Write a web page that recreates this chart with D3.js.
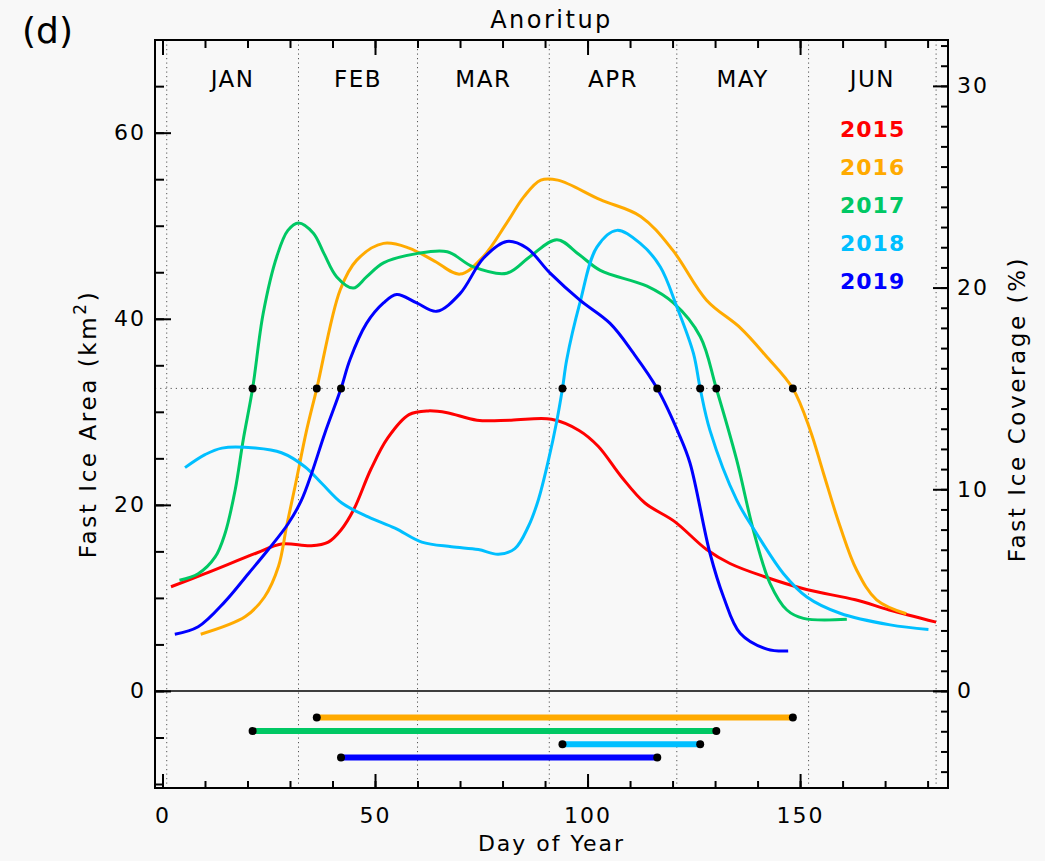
<!DOCTYPE html>
<html>
<head>
<meta charset="utf-8">
<script src="https://cdn.jsdelivr.net/npm/d3@7"></script>
<style>
  body { margin: 0; background: #f8f8f8; }
  svg { display: block; }
  text { font-family: "DejaVu Sans", sans-serif; }
</style>
</head>
<body>
<div id="vis"></div>
<script>
var WIDTH = 1045
var HEIGHT = 861

// ---- data ----
var years = ['2015', '2016', '2017', '2018', '2019']
var monthNames = ['JAN', 'FEB', 'MAR', 'APR', 'MAY', 'JUN']
var monthStartDays = [1, 32, 60, 91, 121, 152, 182]

var days2015 = [2, 10, 22, 28, 35, 39, 42, 45, 49, 53, 58, 62.5, 67, 74, 82, 91.5, 98, 102.5, 108, 113.5, 120.5, 128, 133.5, 141.5, 151.5, 163, 171, 182]
var area2015 = [11.2, 12.6, 14.8, 15.8, 15.6, 16.0, 17.3, 19.5, 23.8, 27.2, 29.7, 30.1, 29.9, 29.1, 29.1, 29.2, 28.0, 26.3, 23.0, 20.2, 18.2, 15.2, 13.7, 12.3, 10.9, 9.8, 8.7, 7.4]

var days2016 = [9, 19.5, 24, 27.3, 29.2, 31.2, 33.9, 36.3, 41.8, 45.7, 52, 58, 64, 70, 75.5, 81, 85, 89, 93, 103, 112.5, 120, 128, 136, 142, 148.3, 152.4, 155.5, 159.4, 163.3, 168, 175]
var area2016 = [6.1, 8.0, 10.1, 13.4, 17.7, 22.0, 28.0, 32.5, 43.1, 46.3, 48.1, 47.6, 46.2, 44.8, 46.7, 50.3, 53.1, 54.9, 54.9, 52.8, 51.0, 47.4, 42.0, 39.0, 36.0, 32.5, 28.0, 23.4, 17.7, 13.0, 9.8, 8.3]

var days2017 = [4, 8.4, 12.4, 14.7, 17.1, 19, 21.2, 23.7, 26.9, 29.5, 32, 35.5, 38, 41, 44.9, 48, 52, 59.8, 67, 73, 81, 86.5, 92.8, 98, 103, 114, 120.2, 126.5, 130.3, 135.1, 139, 142.9, 146.9, 150.8, 161]
var area2017 = [11.9, 12.6, 14.4, 16.9, 21.6, 27.0, 32.5, 40.6, 46.7, 49.5, 50.3, 49.2, 47.0, 44.5, 43.3, 44.5, 46.0, 47.0, 47.2, 45.6, 44.9, 46.7, 48.5, 46.9, 45.2, 43.5, 41.7, 38.1, 32.5, 24.8, 17.3, 11.6, 8.7, 7.8, 7.7]

var days2018 = [5.3, 10, 14, 21.8, 28, 33.5, 37.5, 42.2, 48.4, 54.7, 61, 68, 74.3, 79, 82.9, 86.1, 88.4, 90.8, 92.8, 94.1, 95.1, 98.2, 102.2, 106.9, 112.4, 117.1, 121, 124.9, 126.5, 128.8, 135.1, 139.8, 146.1, 151.6, 159.4, 171.2, 180.2]
var area2018 = [24.0, 25.4, 26.1, 26.1, 25.6, 24.1, 22.3, 20.2, 18.7, 17.5, 16.0, 15.5, 15.2, 14.7, 15.3, 17.7, 20.5, 24.8, 29.1, 32.5, 35.6, 41.7, 47.7, 49.5, 48.1, 45.6, 41.3, 36.3, 32.5, 28.0, 20.5, 16.9, 12.6, 10.1, 8.35, 7.1, 6.6]

var days2019 = [2.9, 8.4, 14.7, 20.2, 24.9, 29.6, 32.7, 35.1, 38.2, 42, 44.1, 48, 52, 55.1, 59.8, 64.5, 70, 75.5, 81, 85.7, 91.2, 98.2, 105.3, 110.8, 116.4, 121.6, 124.1, 128.8, 132, 135.9, 142.2, 147.2]
var area2019 = [6.1, 6.9, 9.6, 12.6, 15.2, 18.0, 20.5, 23.4, 27.7, 32.5, 35.6, 39.5, 41.7, 42.6, 41.7, 40.8, 42.7, 46.5, 48.3, 47.6, 44.9, 42.0, 39.5, 36.3, 32.5, 27.5, 24.5, 14.8, 10.1, 6.2, 4.5, 4.3]

// days where the 15% coverage threshold is crossed (null = never)
var freezeDays = [null, 36.3, 21.2, 94.1, 42.0]
var breakDays = [null, 148.3, 130.3, 126.5, 116.4]

var totalArea = 216.76      // km2 equal to 100% coverage
var thresholdPct = 15

var colors = ['#ff0000', '#ffaa00', '#00c864', '#00bfff', '#0000ff']

var series = [
    { days: days2015, area: area2015 },
    { days: days2016, area: area2016 },
    { days: days2017, area: area2017 },
    { days: days2018, area: area2018 },
    { days: days2019, area: area2019 }
]

// ---- layout ----
var plotL = 155, plotR = 948, plotT = 40, plotB = 788

var x = d3.scaleLinear().domain([-1.76, 184.8]).range([plotL, plotR])
var y = d3.scaleLinear().domain([-10.43, 69.96]).range([plotB, plotT])
var yR = d3.scaleLinear().domain([-10.43 / totalArea * 100, 69.96 / totalArea * 100]).range([plotB, plotT])

var svg = d3.select('#vis').append('svg')
    .attr('width', WIDTH)
    .attr('height', HEIGHT)

svg.append('rect').attr('width', WIDTH).attr('height', HEIGHT).attr('fill', '#f8f8f8')

// month dividers (dotted)
svg.append('g').selectAll('line')
    .data(monthStartDays)
    .enter()
    .append('line')
    .attr('x1', d => x(d)).attr('x2', d => x(d))
    .attr('y1', plotT).attr('y2', plotB)
    .attr('stroke', '#555')
    .attr('stroke-width', 1)
    .attr('stroke-dasharray', '1.2,3.3')

// month names
svg.append('g').selectAll('text')
    .data(monthNames)
    .enter()
    .append('text')
    .attr('x', (d, i) => (x(monthStartDays[i]) + x(monthStartDays[i + 1])) / 2)
    .attr('y', 87)
    .attr('text-anchor', 'middle')
    .attr('font-size', 23)
    .attr('letter-spacing', 1.5)
    .attr('fill', '#000')
    .text(d => d)

// threshold line
var thrArea = thresholdPct / 100 * totalArea
svg.append('line')
    .attr('x1', plotL).attr('x2', plotR)
    .attr('y1', y(thrArea)).attr('y2', y(thrArea))
    .attr('stroke', '#555')
    .attr('stroke-width', 1)
    .attr('stroke-dasharray', '1.2,4')

// zero line
svg.append('line')
    .attr('x1', plotL).attr('x2', plotR)
    .attr('y1', y(0)).attr('y2', y(0))
    .attr('stroke', '#000')
    .attr('stroke-width', 1.6)

// curves
var line = d3.line()
    .x(d => x(d[0]))
    .y(d => y(d[1]))
    .curve(d3.curveCatmullRom.alpha(0.5))

svg.append('g').selectAll('path')
    .data(series)
    .enter()
    .append('path')
    .attr('d', d => line(d.days.map((v, i) => [v, d.area[i]])))
    .attr('fill', 'none')
    .attr('stroke', (d, i) => colors[i])
    .attr('stroke-width', 3)
    .attr('stroke-linejoin', 'round')

// ice season bars + crossing dots
var seasons = []
years.forEach((yr, i) => {
    if (freezeDays[i] != null) {
        seasons.push({ i: i, start: freezeDays[i], end: breakDays[i], level: -(i + 1) * 1.433 })
    }
})

svg.append('g').selectAll('line')
    .data(seasons)
    .enter()
    .append('line')
    .attr('x1', d => x(d.start)).attr('x2', d => x(d.end))
    .attr('y1', d => y(d.level)).attr('y2', d => y(d.level))
    .attr('stroke', d => colors[d.i])
    .attr('stroke-width', 6)

var dots = []
seasons.forEach(s => {
    dots.push([s.start, thrArea], [s.end, thrArea], [s.start, s.level], [s.end, s.level])
})
svg.append('g').selectAll('circle')
    .data(dots)
    .enter()
    .append('circle')
    .attr('cx', d => x(d[0]))
    .attr('cy', d => y(d[1]))
    .attr('r', 4)
    .attr('fill', '#000')

// axes (ticks pointing inward)
function styleAxis(g) {
    g.select('.domain').remove()
    g.selectAll('line').attr('stroke', '#000').attr('stroke-width', 2)
    g.selectAll('text')
        .attr('font-size', 22)
        .attr('letter-spacing', 2)
        .attr('font-family', '"DejaVu Sans", sans-serif')
        .attr('fill', '#000')
}

var minorDays = d3.range(0, 181, 10)
var minorArea = d3.range(-10, 66, 5)
var minorPct = d3.range(-4, 33, 1)

svg.append('g').attr('transform', 'translate(0,' + plotB + ')')
    .call(d3.axisBottom(x).tickValues(minorDays).tickSizeInner(-7).tickSizeOuter(0).tickFormat(''))
    .call(styleAxis)
svg.append('g').attr('transform', 'translate(0,' + plotB + ')')
    .call(d3.axisBottom(x).tickValues([0, 50, 100, 150]).tickSizeInner(-14).tickSizeOuter(0).tickPadding(19))
    .call(styleAxis)
svg.append('g').attr('transform', 'translate(0,' + plotT + ')')
    .call(d3.axisTop(x).tickValues(minorDays).tickSizeInner(-8).tickSizeOuter(0).tickFormat(''))
    .call(styleAxis)
svg.append('g').attr('transform', 'translate(0,' + plotT + ')')
    .call(d3.axisTop(x).tickValues([0, 50, 100, 150]).tickSizeInner(-15).tickSizeOuter(0).tickFormat(''))
    .call(styleAxis)

svg.append('g').attr('transform', 'translate(' + plotL + ',0)')
    .call(d3.axisLeft(y).tickValues(minorArea).tickSizeInner(-9).tickSizeOuter(0).tickFormat(''))
    .call(styleAxis)
svg.append('g').attr('transform', 'translate(' + plotL + ',0)')
    .call(d3.axisLeft(y).tickValues([0, 20, 40, 60]).tickSizeInner(-16).tickSizeOuter(0).tickPadding(9))
    .call(styleAxis)

svg.append('g').attr('transform', 'translate(' + plotR + ',0)')
    .call(d3.axisRight(yR).tickValues(minorPct).tickSizeInner(-7).tickSizeOuter(0).tickFormat(''))
    .call(styleAxis)
svg.append('g').attr('transform', 'translate(' + plotR + ',0)')
    .call(d3.axisRight(yR).tickValues([0, 10, 20, 30]).tickSizeInner(-15).tickSizeOuter(0).tickPadding(9))
    .call(styleAxis)

// frame
svg.append('rect')
    .attr('x', plotL).attr('y', plotT)
    .attr('width', plotR - plotL).attr('height', plotB - plotT)
    .attr('fill', 'none')
    .attr('stroke', '#000')
    .attr('stroke-width', 2)

// legend
svg.append('g').selectAll('text')
    .data(years)
    .enter()
    .append('text')
    .attr('x', 840)
    .attr('y', (d, i) => 137 + i * 38)
    .attr('font-size', 22)
    .attr('font-weight', 'bold')
    .attr('letter-spacing', 1)
    .attr('fill', (d, i) => colors[i])
    .text(d => d)

// titles
svg.append('text')
    .attr('x', (plotL + plotR) / 2).attr('y', 28)
    .attr('text-anchor', 'middle')
    .attr('font-size', 24)
    .attr('letter-spacing', 2.5)
    .attr('fill', '#000')
    .text('Anoritup')

svg.append('text')
    .attr('x', 22).attr('y', 43)
    .attr('font-size', 36)
    .attr('fill', '#000')
    .text('(d)')

svg.append('text')
    .attr('x', (plotL + plotR) / 2).attr('y', 851)
    .attr('text-anchor', 'middle')
    .attr('font-size', 22)
    .attr('letter-spacing', 2)
    .attr('fill', '#000')
    .text('Day of Year')

var yTitle = svg.append('text')
    .attr('transform', 'translate(96,424) rotate(-90)')
    .attr('text-anchor', 'middle')
    .attr('font-size', 23)
    .attr('letter-spacing', 2.6)
    .attr('fill', '#000')
yTitle.append('tspan').text('Fast Ice Area (km')
yTitle.append('tspan').attr('dy', -10).attr('font-size', 17).text('2')
yTitle.append('tspan').attr('dy', 10).text(')')

svg.append('text')
    .attr('transform', 'translate(1025,409) rotate(-90)')
    .attr('text-anchor', 'middle')
    .attr('font-size', 23)
    .attr('letter-spacing', 2.6)
    .attr('fill', '#000')
    .text('Fast Ice Coverage (%)')
</script>
</body>
</html>
